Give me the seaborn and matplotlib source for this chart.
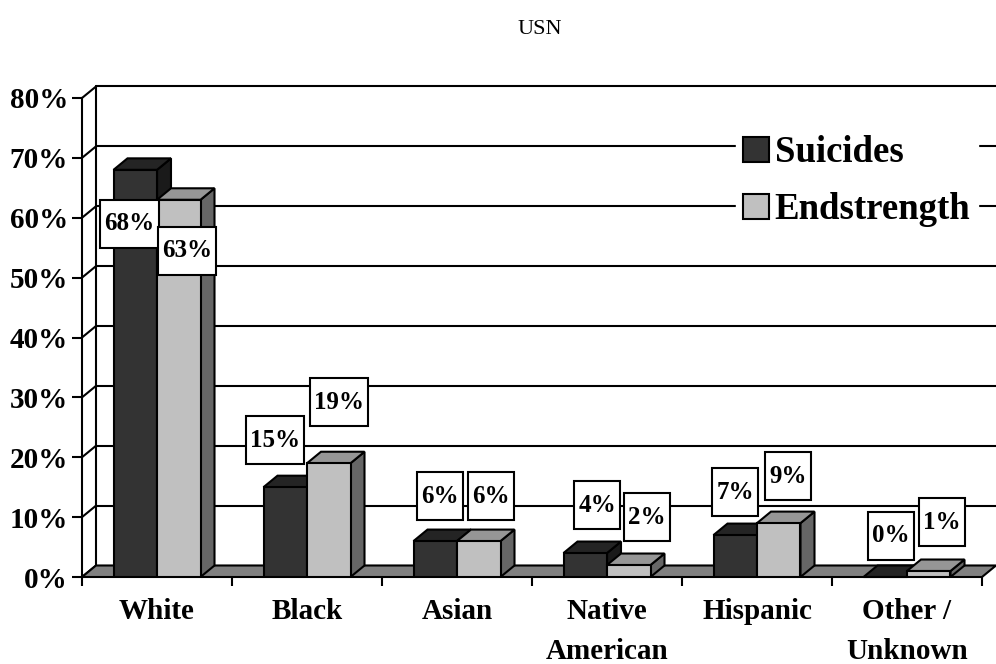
import numpy as np
import pandas as pd
import matplotlib
matplotlib.use('Agg')
import matplotlib.pyplot as plt
from matplotlib.patches import Polygon, Patch
from matplotlib.offsetbox import TextArea, DrawingArea, VPacker, AnnotationBbox
import seaborn as sns

# Data (percent)
categories = ['White', 'Black', 'Asian', 'Native\nAmerican', 'Hispanic', 'Other /\nUnknown']
suicides = [68, 15, 6, 4, 7, 0]
endstrength = [63, 19, 6, 2, 9, 1]
series_names = ['Suicides', 'Endstrength']
y_ticks = [0, 10, 20, 30, 40, 50, 60, 70, 80]

# Label placement relative to bar top (pixels) - the original labels were nudged by hand
label_dx = [[-6, -10, 5, 12, 0, 6], [8, 10, 12, 18, 9, 13]]
label_dy = [[-54, 47, 45, 48, 43, 41], [-51, 61, 45, 48, 47, 49]]

# Colours: front, top, side
face_cols = ['#333333', '#c0c0c0']
top_cols = ['#242424', '#969696']
side_cols = ['#1a1a1a', '#666666']
floor_col = '#808080'
depth_px = (14, 11.5)
lw = 1.5
serif = ['Liberation Serif', 'DejaVu Serif']

sns.set_style('white')
plt.rcParams['font.family'] = serif
plt.rcParams['text.color'] = 'black'
plt.rcParams['xtick.color'] = 'black'
plt.rcParams['ytick.color'] = 'black'
plt.rcParams['axes.labelcolor'] = 'black'

df = pd.DataFrame({
    'category': categories * 2,
    'value': suicides + endstrength,
    'series': [series_names[0]] * len(categories) + [series_names[1]] * len(categories),
})

fig = plt.figure(figsize=(9.96, 6.64), dpi=100)
ax = fig.add_axes([82 / 996, 87 / 664, 900 / 996, 479 / 664])

sns.barplot(data=df, x='category', y='value', hue='series', palette=face_cols,
            width=0.58, edgecolor='black', linewidth=lw, saturation=1,
            legend=False, ax=ax)

ax.set_xlim(-0.5, len(categories) - 0.5)
ax.set_ylim(0, 80)

# depth offset in data units
p0 = ax.transData.transform((0, 0))
p1 = ax.transData.transform((1, 1))
ddx = depth_px[0] / (p1[0] - p0[0])
ddy = depth_px[1] / (p1[1] - p0[1])
x_lo, x_hi = -0.5, len(categories) - 0.5

# back wall grid + left wall diagonals
for g in y_ticks:
    ax.plot([x_lo + ddx, x_hi + ddx], [g + ddy, g + ddy], color='black', lw=lw, zorder=0.5, clip_on=False)
    ax.plot([x_lo, x_lo + ddx], [g, g + ddy], color='black', lw=lw, zorder=0.5, clip_on=False)
ax.plot([x_lo + ddx, x_lo + ddx], [ddy, 80 + ddy], color='black', lw=lw, zorder=0.5, clip_on=False)

# floor
floor = Polygon([(x_lo, 0), (x_hi, 0), (x_hi + ddx, ddy), (x_lo + ddx, ddy)],
                closed=True, fc=floor_col, ec='black', lw=lw, zorder=1, clip_on=False)
ax.add_patch(floor)

# 3D extrusions on the seaborn bars + labels
for si, cont in enumerate(ax.containers):
    z = 3 + si
    for ci, bar in enumerate(cont):
        x0, w, h = bar.get_x(), bar.get_width(), bar.get_height()
        bar.set_zorder(z + 0.2)
        top = Polygon([(x0, h), (x0 + w, h), (x0 + w + ddx, h + ddy), (x0 + ddx, h + ddy)],
                      closed=True, fc=top_cols[si], ec='black', lw=lw, zorder=z, clip_on=False)
        side = Polygon([(x0 + w, 0), (x0 + w + ddx, ddy), (x0 + w + ddx, h + ddy), (x0 + w, h)],
                       closed=True, fc=side_cols[si], ec='black', lw=lw, zorder=z, clip_on=False)
        ax.add_patch(side)
        ax.add_patch(top)

        txt = TextArea(f'{int(round(h))}%', textprops=dict(fontsize=18, fontweight='bold',
                                                         family=serif, color='black'))
        packed = VPacker(children=[DrawingArea(1, 6), txt, DrawingArea(1, 6)],
                         align='center', pad=0, sep=0)
        ab = AnnotationBbox(packed, (x0 + w / 2, h),
                            xybox=(label_dx[si][ci], label_dy[si][ci]),
                            xycoords='data', boxcoords='offset pixels',
                            frameon=True, pad=0.3, fontsize=10,
                            bboxprops=dict(boxstyle='square', fc='white', ec='black', lw=lw),
                            annotation_clip=False, zorder=8)
        ax.add_artist(ab)

# axes styling
for s in ['top', 'right', 'bottom']:
    ax.spines[s].set_visible(False)
ax.spines['left'].set_linewidth(lw)
ax.spines['left'].set_color('black')
ax.set_yticks(y_ticks)
ax.set_yticklabels([f'{t}%' for t in y_ticks], fontsize=21, fontweight='bold')
ax.tick_params(axis='y', direction='out', length=7, width=lw, pad=3, left=True, colors='black')
ax.set_xticks(range(len(categories)))
ax.set_xticklabels(categories, fontsize=21, fontweight='bold', linespacing=1.65)
ax.tick_params(axis='x', which='major', length=0, pad=15, colors='black')
ax.set_xticks(np.arange(-0.5, len(categories), 1), minor=True)
ax.tick_params(axis='x', which='minor', direction='out', length=6.5, width=lw, bottom=True, colors='black')
ax.set_xlabel('')
ax.set_ylabel('')

handles = [Patch(fc=face_cols[i], ec='black', lw=lw) for i in range(2)]
leg = ax.legend(handles, series_names, loc='upper left',
                bbox_to_anchor=(736 / 996, 1 - 128 / 664), bbox_transform=fig.transFigure,
                frameon=True, fancybox=False, framealpha=1, edgecolor='white', facecolor='white',
                prop=dict(family=serif, weight='bold', size=26.5),
                handlelength=0.7, handleheight=0.7, handletextpad=0.15,
                labelspacing=0.6, borderpad=0.2, borderaxespad=0)
for t in leg.get_texts():
    t.set_color('black')
leg.set_zorder(10)

fig.text(540 / 996, 1 - 30 / 664, 'USN', ha='center', va='center', fontsize=16, color='black')

fig.savefig('out.png', dpi=100)
